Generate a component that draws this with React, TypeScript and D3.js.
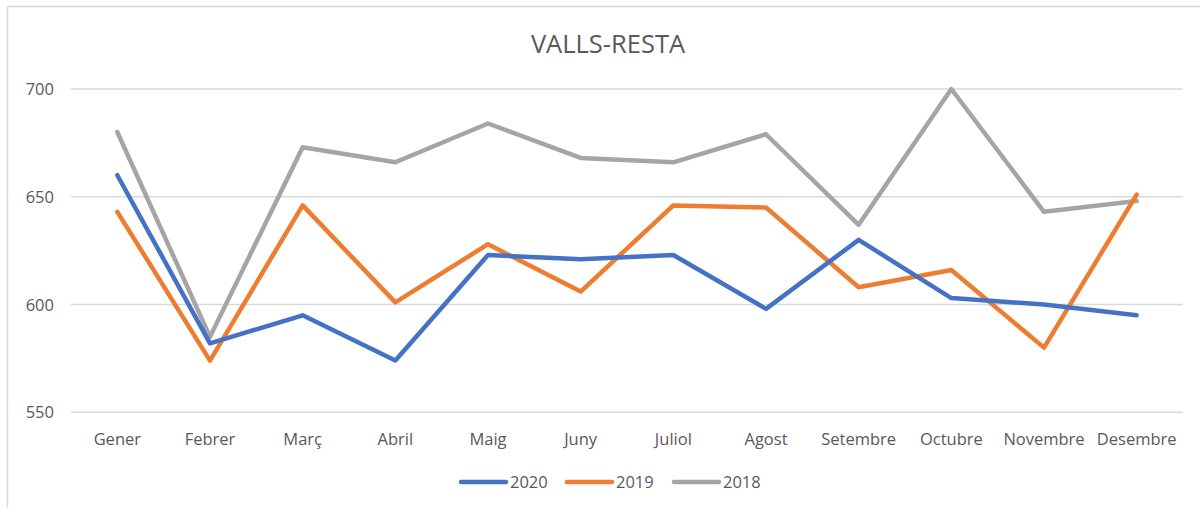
import React, { useEffect, useRef } from 'react';
import * as d3 from 'd3';

const months = ['Gener', 'Febrer', 'Març', 'Abril', 'Maig', 'Juny', 'Juliol', 'Agost', 'Setembre', 'Octubre', 'Novembre', 'Desembre'];
const years = ['2020', '2019', '2018'];
const values2020 = [660, 582, 595, 574, 623, 621, 623, 598, 630, 603, 600, 595];
const values2019 = [643, 574, 646, 601, 628, 606, 646, 645, 608, 616, 580, 651];
const values2018 = [680, 585, 673, 666, 684, 668, 666, 679, 637, 700, 643, 648];
const yTicks = [550, 600, 650, 700];
const colors = ['#4472C4', '#ED7D31', '#A5A5A5'];

const W = 1200;
const H = 508;

const App: React.FC = () => {
  const svgRef = useRef<SVGSVGElement>(null);

  useEffect(() => {
    if (!svgRef.current) return;
    const svg = d3.select(svgRef.current);
    svg.selectAll('*').remove();

    const font = '"Open Sans", "Segoe UI", sans-serif';
    const margin = { left: 71, right: 17, top: 89, bottom: 96 };
    const series = [values2020, values2019, values2018];

    // chart frame
    svg.append('rect')
      .attr('x', 7.5).attr('y', 6.5)
      .attr('width', W + 20).attr('height', H + 20)
      .attr('fill', '#fff')
      .attr('stroke', '#d9d9d9')
      .attr('stroke-width', 1.5);

    const x = d3.scaleBand<string>()
      .domain(months)
      .range([margin.left, W - margin.right]);

    const y = d3.scaleLinear()
      .domain([550, 700])
      .range([412.3, margin.top]);

    // gridlines
    svg.append('g')
      .selectAll('line')
      .data(yTicks)
      .enter()
      .append('line')
      .attr('x1', margin.left)
      .attr('x2', W - margin.right)
      .attr('y1', (d: number) => y(d))
      .attr('y2', (d: number) => y(d))
      .attr('stroke', '#d9d9d9')
      .attr('stroke-width', 1.5);

    // y labels
    svg.append('g')
      .selectAll('text')
      .data(yTicks)
      .enter()
      .append('text')
      .attr('x', 54)
      .attr('y', (d: number) => y(d) + 6)
      .attr('text-anchor', 'end')
      .style('font-family', font)
      .style('font-size', '16.5px')
      .style('fill', '#595959')
      .text((d: number) => String(d));

    // x labels
    svg.append('g')
      .selectAll('text')
      .data(months)
      .enter()
      .append('text')
      .attr('x', (d: string) => (x(d) || 0) + x.bandwidth() / 2)
      .attr('y', 445)
      .attr('text-anchor', 'middle')
      .style('font-family', font)
      .style('font-size', '16.5px')
      .style('fill', '#595959')
      .text((d: string) => d);

    // lines
    const line = d3.line<number>()
      .x((_: number, i: number) => (x(months[i]) || 0) + x.bandwidth() / 2)
      .y((d: number) => y(d));

    [2, 1, 0].forEach((k) => {
      svg.append('path')
        .datum(series[k])
        .attr('fill', 'none')
        .attr('stroke', colors[k])
        .attr('stroke-width', 4.5)
        .attr('stroke-linejoin', 'round')
        .attr('stroke-linecap', 'round')
        .attr('d', line);
    });

    // title
    svg.append('text')
      .attr('x', 608)
      .attr('y', 53)
      .attr('text-anchor', 'middle')
      .style('font-family', font)
      .style('font-size', '25.5px')
      .style('fill', '#595959')
      .text('VALLS-RESTA');

    // legend
    const legendX = [461, 567, 674];
    years.forEach((yr, k) => {
      const g = svg.append('g').attr('transform', `translate(${legendX[k]},482)`);
      g.append('line')
        .attr('x1', 0).attr('x2', 45)
        .attr('y1', 0).attr('y2', 0)
        .attr('stroke', colors[k])
        .attr('stroke-width', 4.5)
        .attr('stroke-linecap', 'round');
      g.append('text')
        .attr('x', 49)
        .attr('y', 6)
        .style('font-family', font)
        .style('font-size', '16.5px')
        .style('fill', '#595959')
        .text(yr);
    });
  }, []);

  return (
    <svg
      ref={svgRef}
      width={W}
      height={H}
      style={{ position: 'absolute', left: 0, top: 0, background: '#fff' }}
    />
  );
};

export default App;
